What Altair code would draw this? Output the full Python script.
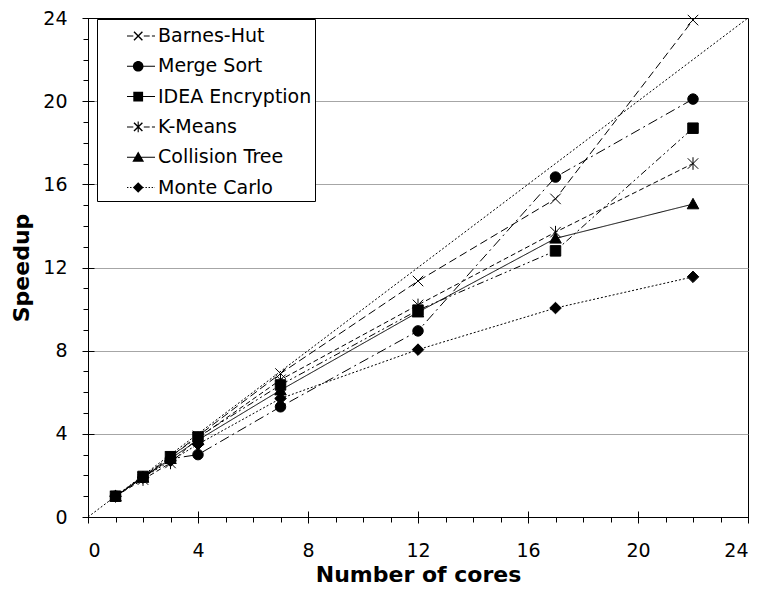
import altair as alt
import pandas as pd

# ---- data ----
cores = [1, 2, 3, 4, 7, 12, 17, 22]
series_names = ["Barnes-Hut", "Merge Sort", "IDEA Encryption", "K-Means",
                "Collision Tree", "Monte Carlo"]
barnes_hut = [1.0, 1.9, 2.9, 3.9, 6.9, 11.35, 15.3, 23.9]
merge_sort = [1.0, 1.9, 2.8, 3.0, 5.3, 8.95, 16.35, 20.1]
idea_enc = [1.0, 1.95, 2.9, 3.85, 6.35, 9.95, 12.8, 18.7]
k_means = [1.0, 1.8, 2.6, 3.8, 6.6, 10.2, 13.7, 17.0]
collision = [1.0, 1.9, 2.8, 3.7, 6.1, 9.85, 13.4, 15.05]
monte_carlo = [1.0, 1.9, 2.7, 3.5, 5.7, 8.05, 10.05, 11.55]
ideal_x = [0, 24]
ideal_y = [0, 24]

x_major = [0, 4, 8, 12, 16, 20, 24]
y_major = [0, 4, 8, 12, 16, 20, 24]
minor_vals = [0, 1, 2, 3, 4, 5, 6, 7, 8, 9, 10, 11, 12, 13, 14, 15, 16, 17,
              18, 19, 20, 21, 22, 23, 24]

values = [barnes_hut, merge_sort, idea_enc, k_means, collision, monte_carlo]
rows = []
for name, vals in zip(series_names, values):
    for c, v in zip(cores, vals):
        rows.append({"series": name, "cores": c, "speedup": v})
df = pd.DataFrame(rows)
ideal_df = pd.DataFrame({"cores": ideal_x, "speedup": ideal_y})

# ---- styles ----
FONT = "DejaVu Sans"
dashes = [[8, 4], [10, 4, 2, 4], [7, 3, 2, 3, 2, 3], [5, 3], [1, 0], [2, 2]]
marker_paths = [
    "M-1,-1L1,1M-1,1L1,-1",
    "circle",
    "square",
    "M-1,-1L1,1M-1,1L1,-1M0,-1.2L0,1.2",
    "M0,-1.1L1.1,0.9L-1.1,0.9Z",
    "M0,-1.1L1.1,0L0,1.1L-1.1,0Z",
]


# legend glyphs: short line sample + marker, drawn as filled outlines
def hseg(x0, x1, t=0.036):
    return f"M{x0:.3f},{-t}H{x1:.3f}V{t}H{x0:.3f}Z"


def diag(cx, a, sign, t=0.05):
    d = t / 1.4142
    p1 = (cx - a + d * sign, -sign * a - d)
    p2 = (cx + a + d * sign, sign * a - d)
    p3 = (cx + a - d * sign, sign * a + d)
    p4 = (cx - a - d * sign, -sign * a + d)
    return "M{:.3f},{:.3f}L{:.3f},{:.3f}L{:.3f},{:.3f}L{:.3f},{:.3f}Z".format(
        *p1, *p2, *p3, *p4)


def dotted(x0, x1, on=0.1, step=0.22):
    out = ""
    x = x0
    while x < x1:
        out += hseg(x, min(x + on, x1))
        x += step
    return out


C = -0.2  # marker centre within the symbol
solid = hseg(-1, 1)
dash_lr = hseg(-1, -0.55) + hseg(0.2, 0.62) + hseg(0.78, 1)
legend_paths = [
    dash_lr + diag(C, 0.3, 1) + diag(C, 0.3, -1),
    solid + f"M{C + 0.38:.3f},0A0.38,0.38,0,1,1,{C - 0.38:.3f},0A0.38,0.38,0,1,1,{C + 0.38:.3f},0Z",
    solid + f"M{C - 0.35:.3f},-0.35H{C + 0.35:.3f}V0.35H{C - 0.35:.3f}Z",
    dash_lr + diag(C, 0.3, 1) + diag(C, 0.3, -1)
    + f"M{C - 0.04:.3f},-0.38H{C + 0.04:.3f}V0.38H{C - 0.04:.3f}Z",
    solid + f"M{C:.3f},-0.4L{C + 0.42:.3f},0.32H{C - 0.42:.3f}Z",
    dotted(-1, 1) + f"M{C:.3f},-0.38L{C + 0.38:.3f},0L{C:.3f},0.38L{C - 0.38:.3f},0Z",
]

xscale = alt.Scale(domain=[0, 24], nice=False, zero=True)
yscale = alt.Scale(domain=[0, 24], nice=False, zero=True)

minor_x_axis = alt.Axis(orient="bottom", values=minor_vals, tickSize=5,
                        labels=False, title=None, grid=False, domain=True,
                        domainColor="black", tickColor="black")
minor_y_axis = alt.Axis(orient="left", values=minor_vals, tickSize=5,
                        labels=False, title=None, grid=True,
                        gridColor="#a6a6a6",
                        gridOpacity={"condition": {"test": "datum.value % 4 === 0 && datum.value > 0 && datum.value < 24", "value": 1}, "value": 0},
                        domain=True, domainColor="black", tickColor="black")
major_x_axis = alt.Axis(orient="bottom", values=x_major, offset=-6, tickSize=12,
                        domain=False, grid=False, tickColor="black",
                        labelFont=FONT, labelFontSize=19, labelColor="black",
                        labelPadding=18, title="Number of cores",
                        titleFont=FONT, titleFontSize=22, titleFontWeight="bold",
                        titleColor="black", titlePadding=4)
major_y_axis = alt.Axis(orient="left", values=y_major, offset=-6, tickSize=12,
                        domain=False, grid=False, tickColor="black",
                        labelFont=FONT, labelFontSize=19, labelColor="black",
                        labelPadding=15, title="Speedup",
                        titleFont=FONT, titleFontSize=22, titleFontWeight="bold",
                        titleColor="black", titlePadding=9)

ideal = alt.Chart(ideal_df).mark_line(color="black", strokeWidth=1,
                                      strokeDash=[2, 2]).encode(
    x=alt.X("cores:Q", scale=xscale, axis=None),
    y=alt.Y("speedup:Q", scale=yscale, axis=None),
)

lines = alt.Chart(df).mark_line(color="black", strokeWidth=1).encode(
    x=alt.X("cores:Q", scale=xscale, axis=minor_x_axis),
    y=alt.Y("speedup:Q", scale=yscale, axis=minor_y_axis),
    strokeDash=alt.StrokeDash("series:N",
                              scale=alt.Scale(domain=series_names, range=dashes),
                              legend=None),
)

points = alt.Chart(df).mark_point(filled=True, size=110, fill="black",
                                  stroke="black", strokeWidth=1,
                                  opacity=1).encode(
    x=alt.X("cores:Q", scale=xscale, axis=major_x_axis),
    y=alt.Y("speedup:Q", scale=yscale, axis=major_y_axis),
    shape=alt.Shape("series:N",
                    scale=alt.Scale(domain=series_names, range=marker_paths),
                    legend=None),
)

legend_layer = alt.Chart(df).transform_filter("false").mark_point(
    filled=True, size=784, fill="black", strokeWidth=0, opacity=1).encode(
    x=alt.X("cores:Q", scale=xscale, axis=None),
    y=alt.Y("speedup:Q", scale=yscale, axis=None),
    shape=alt.Shape("series:N",
                    scale=alt.Scale(domain=series_names, range=legend_paths),
                    legend=alt.Legend(
                        orient="none", legendX=9, legendY=1, title=None,
                        strokeColor="black", fillColor="white", padding=3,
                        symbolOffset=27, rowPadding=6.3, labelOffset=3,
                        labelFont=FONT, labelFontSize=19, labelColor="black",
                        symbolSize=784, symbolStrokeWidth=0,
                        symbolFillColor="black", symbolOpacity=1,
                        cornerRadius=0)),
)

chart = alt.layer(ideal, lines, points, legend_layer).resolve_axis(
    x="independent", y="independent"
).resolve_scale(
    shape="independent", strokeDash="independent"
).properties(
    width=660, height=499,
    autosize=alt.AutoSizeParams(type="none"),
    padding={"left": 80, "top": 10, "right": 13, "bottom": 69},
    background="white",
).configure_view(stroke="black", strokeWidth=1)

chart.save("out.html", embed_options={"renderer": "svg", "actions": False})
